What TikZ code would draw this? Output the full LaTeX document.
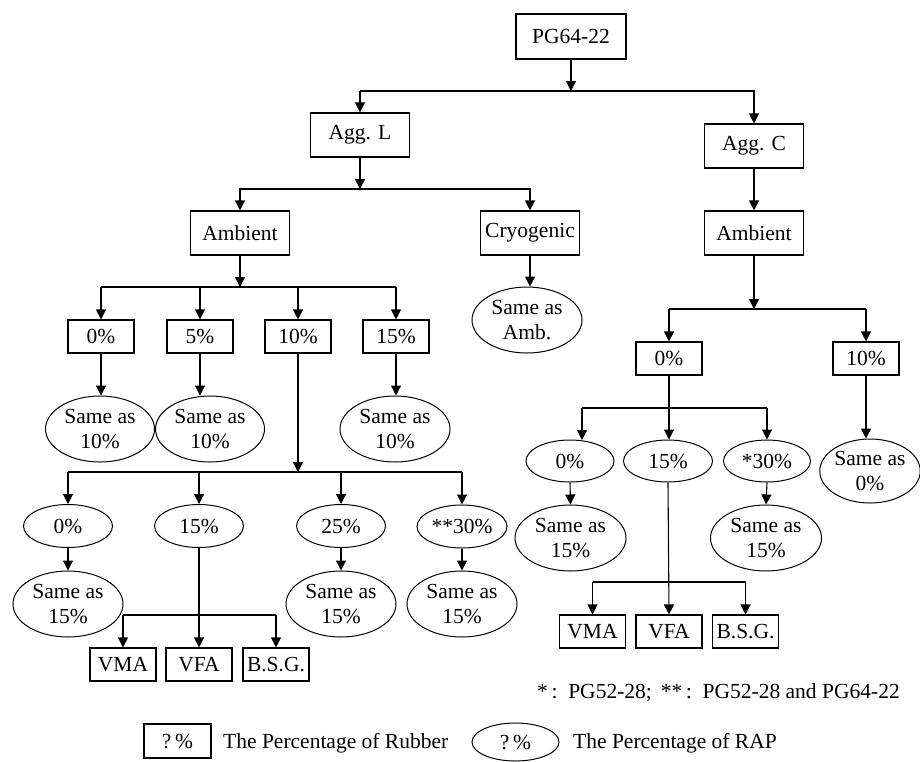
\documentclass[tikz,border=0pt]{standalone}
\usepackage{fontspec}
\setmainfont{Liberation Serif}
\usetikzlibrary{arrows.meta,shapes.geometric}
\begin{document}
\begin{tikzpicture}[x=1pt,y=-1pt,
  every node/.style={font=\fontsize{21.5}{25}\selectfont, inner sep=0pt},
  bx/.style={draw, line width=1.1pt, rectangle, minimum width=99pt, minimum height=44pt},
  sbx/.style={draw, line width=1.1pt, rectangle, minimum width=66pt, minimum height=33pt},
  el/.style={draw, line width=1pt, ellipse, minimum width=89pt, minimum height=43pt},
  bel/.style={draw, line width=1pt, ellipse, minimum width=110pt, minimum height=66pt, align=center},
  ln/.style={line width=1.1pt},
  arr/.style={line width=1.1pt, -{Triangle[width=10pt,length=10pt]}}]
\useasboundingbox (0,0) rectangle (920,761);

% top level
\node[bx, minimum width=110pt, minimum height=45pt] (pg) at (571,36.5) {PG64-22};
\node[bx] (aggL) at (360,135) {Agg. L};
\node[bx] (aggC) at (754,146) {Agg. C};
\node[bx] (ambL) at (240,233) {Ambient};
\node[bx] (cryo) at (530,233) {Cryogenic};
\node[bx] (ambR) at (754,233) {Ambient};

\coordinate (j1) at (571,91);
\draw[arr] (pg.south) -- (j1);
\draw[ln] (aggL.north |- j1) -- (j1);
\draw[arr] (j1) -| (aggC.north);
\draw[arr] (aggL.north |- j1) -- (aggL.north);

\coordinate (j2) at (360,189);
\draw[arr] (aggL.south) -- (j2);
\draw[arr] (j2) -| (ambL.north);
\draw[arr] (j2) -| (cryo.north);
\draw[arr] (aggC.south) -- (ambR.north);

% cryogenic
\node[bel, minimum width=110pt] (samb) at (527,320) {Same as\\Amb.};
\draw[arr] (cryo.south) -- (cryo.south |- samb.north);

% left ambient rubber
\node[sbx] (r0) at (101,336.5) {0\%};
\node[sbx] (r5) at (200,336.5) {5\%};
\node[sbx] (r10) at (298,336.5) {10\%};
\node[sbx] (r15) at (396,336.5) {15\%};
\coordinate (j3) at (240,287);
\draw[arr] (ambL.south) -- (j3);
\draw[ln] (r0.north |- j3) -- (r15.north |- j3);
\draw[arr] (r0.north |- j3) -- (r0.north);
\draw[arr] (r5.north |- j3) -- (r5.north);
\draw[arr] (r10.north |- j3) -- (r10.north);
\draw[arr] (r15.north |- j3) -- (r15.north);

\node[bel, minimum width=109pt] (s0) at (100,429) {Same as\\10\%};
\node[bel, minimum width=109pt] (s5) at (210,429) {Same as\\10\%};
\node[bel] (s15) at (395,429) {Same as\\10\%};
\draw[arr] (r0.south) -- (r0.south |- s0.north);
\draw[arr] (r5.south) -- (r5.south |- s5.north);
\draw[arr] (r15.south) -- (r15.south |- s15.north);

% RAP under 10%
\node[el] (e0) at (68,526) {0\%};
\node[el] (e15) at (199,526) {15\%};
\node[el] (e25) at (341,526) {25\%};
\node[el, minimum width=90pt] (e30) at (462,526.5) {**30\%};
\coordinate (j4) at (298,472);
\draw[arr] (r10.south) -- (j4);
\draw[ln] (e0.north |- j4) -- (e30.north |- j4);
\draw[arr] (e0.north |- j4) -- (e0.north);
\draw[arr] (e15.north |- j4) -- (e15.north);
\draw[arr] (e25.north |- j4) -- (e25.north);
\draw[arr] (e30.north |- j4) -- (e30.north);

\node[bel] (f0) at (68,604) {Same as\\15\%};
\node[bel] (f25) at (341,604) {Same as\\15\%};
\node[bel] (f30) at (462,604) {Same as\\15\%};
\draw[arr] (e0.south) -- (f0.north);
\draw[arr] (e25.south) -- (f25.north);
\draw[arr] (e30.south) -- (f30.north);

\node[sbx] (vma) at (123,664.5) {VMA};
\node[sbx] (vfa) at (199,664.5) {VFA};
\node[sbx] (bsg) at (276,664.5) {B.S.G.};
\coordinate (j5) at (199,615);
\draw[arr] (e15.south) -- (vfa.north);
\draw[ln] (vma.north |- j5) -- (bsg.north |- j5);
\draw[arr] (vma.north |- j5) -- (vma.north);
\draw[arr] (bsg.north |- j5) -- (bsg.north);

% right ambient
\node[sbx] (q0) at (669,358.5) {0\%};
\node[sbx] (q10) at (866,358.5) {10\%};
\coordinate (j6) at (754,309);
\draw[arr] (ambR.south) -- (j6);
\draw[ln] (q0.north |- j6) -- (q10.north |- j6);
\draw[arr] (q0.north |- j6) -- (q0.north);
\draw[arr] (q10.north |- j6) -- (q10.north);

\node[bel, minimum width=98pt, minimum height=64pt] (sq0) at (870,471) {Same as\\0\%};
\draw[arr] (q10.south) -- (q10.south |- sq0.north);

\node[el, minimum width=88pt, minimum height=42pt] (c0) at (570,461) {0\%};
\node[el, minimum width=89pt, minimum height=42pt] (c15) at (668,461) {15\%};
\node[el, minimum width=87pt, minimum height=42pt] (c30) at (767,461) {*30\%};
\coordinate (j7) at (669,408);
\coordinate (c0a) at (582,440);
\draw[arr] (q0.south) -- (q0.south |- c15.north);
\draw[ln] (c0a |- j7) -- (c30.north |- j7);
\draw[arr] (c0a |- j7) -- (c0a);
\draw[arr] (c30.north |- j7) -- (c30.north);

\node[bel, minimum width=111pt] (g0) at (570.5,538) {Same as\\15\%};
\node[bel, minimum width=111pt] (g30) at (766,538) {Same as\\15\%};
\draw[arr] (c0.south) -- (g0.north);
\draw[arr] (c30.south) -- (g30.north);

\node[sbx] (vma2) at (592.5,631.5) {VMA};
\node[sbx] (vfa2) at (669,631.5) {VFA};
\node[sbx] (bsg2) at (745.5,631.5) {B.S.G.};
\coordinate (j8) at (669,582);
\draw[arr] (c15.south) -- (vfa2.north);
\draw[ln] (vma2.north |- j8) -- (bsg2.north |- j8);
\draw[arr] (vma2.north |- j8) -- (vma2.north);
\draw[arr] (bsg2.north |- j8) -- (bsg2.north);

% notes and legend
\node (note) at (718.5,693) {*\,:\, PG52-28;\, **\,:\, PG52-28 and PG64-22};
\node[sbx, minimum width=67pt, minimum height=34pt] (lbox) at (177.5,741) {?\,\%};
\node[anchor=west] (ltxt1) at (223,743) {The Percentage of Rubber};
\node[el, minimum width=87pt, minimum height=38pt] (lel) at (515.5,742) {?\,\%};
\node[anchor=west] (ltxt2) at (573,743) {The Percentage of RAP};
\end{tikzpicture}
\end{document}
